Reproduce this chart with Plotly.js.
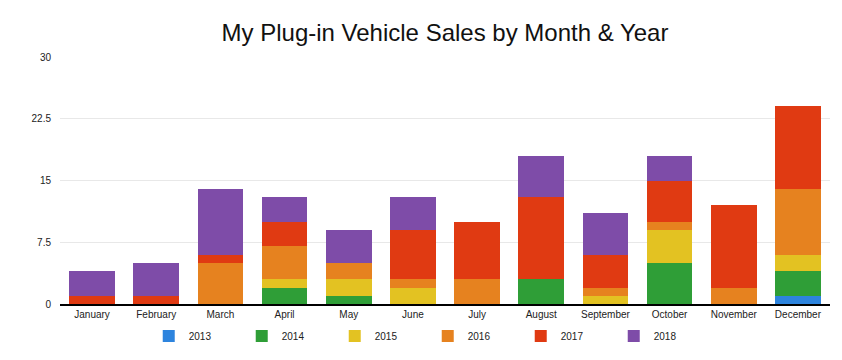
<!DOCTYPE html>
<html><head><meta charset="utf-8">
<script src="https://cdn.plot.ly/plotly-3.0.1.min.js"></script>
<style>html,body{margin:0;padding:0;background:#fff;}#chart{width:842px;height:360px;}</style>
</head><body><div id="chart"></div>
<script>
const months = ["January","February","March","April","May","June","July","August","September","October","November","December"];
const years = ["2013","2014","2015","2016","2017","2018"];
const s2013 = [0,0,0,0,0,0,0,0,0,0,0,1];
const s2014 = [0,0,0,2,1,0,0,3,0,5,0,3];
const s2015 = [0,0,0,1,2,2,0,0,1,4,0,2];
const s2016 = [0,0,5,4,2,1,3,0,1,1,2,8];
const s2017 = [1,1,1,3,0,6,7,10,4,5,10,10];
const s2018 = [3,4,8,3,4,4,0,5,5,3,0,0];
const yTicks = [0,7.5,15,22.5,30];
const yTickLabels = ["0","7.5","15","22.5","30"];
const colors = ["#2d84de","#2f9e37","#e3c222","#e6821f","#e03a12","#7e4ca8"];
const series = [s2013,s2014,s2015,s2016,s2017,s2018];
const traces = series.map((s,i)=>({
  type:"bar", name:years[i], x:months, y:s,
  marker:{color:colors[i], line:{width:0}},
  hoverinfo:"x+y+name"
}));
const layout = {
  width:842, height:360,
  margin:{l:60,r:12,t:57,b:56, autoexpand:false},
  barmode:"stack", bargap:0.29,
  paper_bgcolor:"#fff", plot_bgcolor:"#fff",
  font:{family:"Liberation Sans, Arial, sans-serif", color:"#222", size:10},
  title:{text:"My Plug-in Vehicle Sales by Month & Year", font:{size:24,color:"#111"}, xref:"paper", x:0.5, xanchor:"center", y:1-33/360, yanchor:"middle"},
  xaxis:{type:"category", showgrid:false, showline:true, linecolor:"#000", linewidth:1.5, ticks:"", tickfont:{size:10}, fixedrange:true},
  yaxis:{range:[0,30], tickvals:yTicks, ticktext:yTickLabels, showgrid:true, gridcolor:"#e8e8e8", zeroline:false, showline:false, ticks:"", ticklabelstandoff:8, tickfont:{size:10}, fixedrange:true},
  showlegend:true,
  legend:{orientation:"h", x:0.508, xanchor:"center", xref:"container", yref:"container", y:1-336/360, yanchor:"middle", traceorder:"normal", entrywidth:48, entrywidthmode:"pixels", font:{size:10}, itemwidth:30}
};
Plotly.newPlot("chart", traces, layout, {displayModeBar:false, staticPlot:true});
</script></body></html>
